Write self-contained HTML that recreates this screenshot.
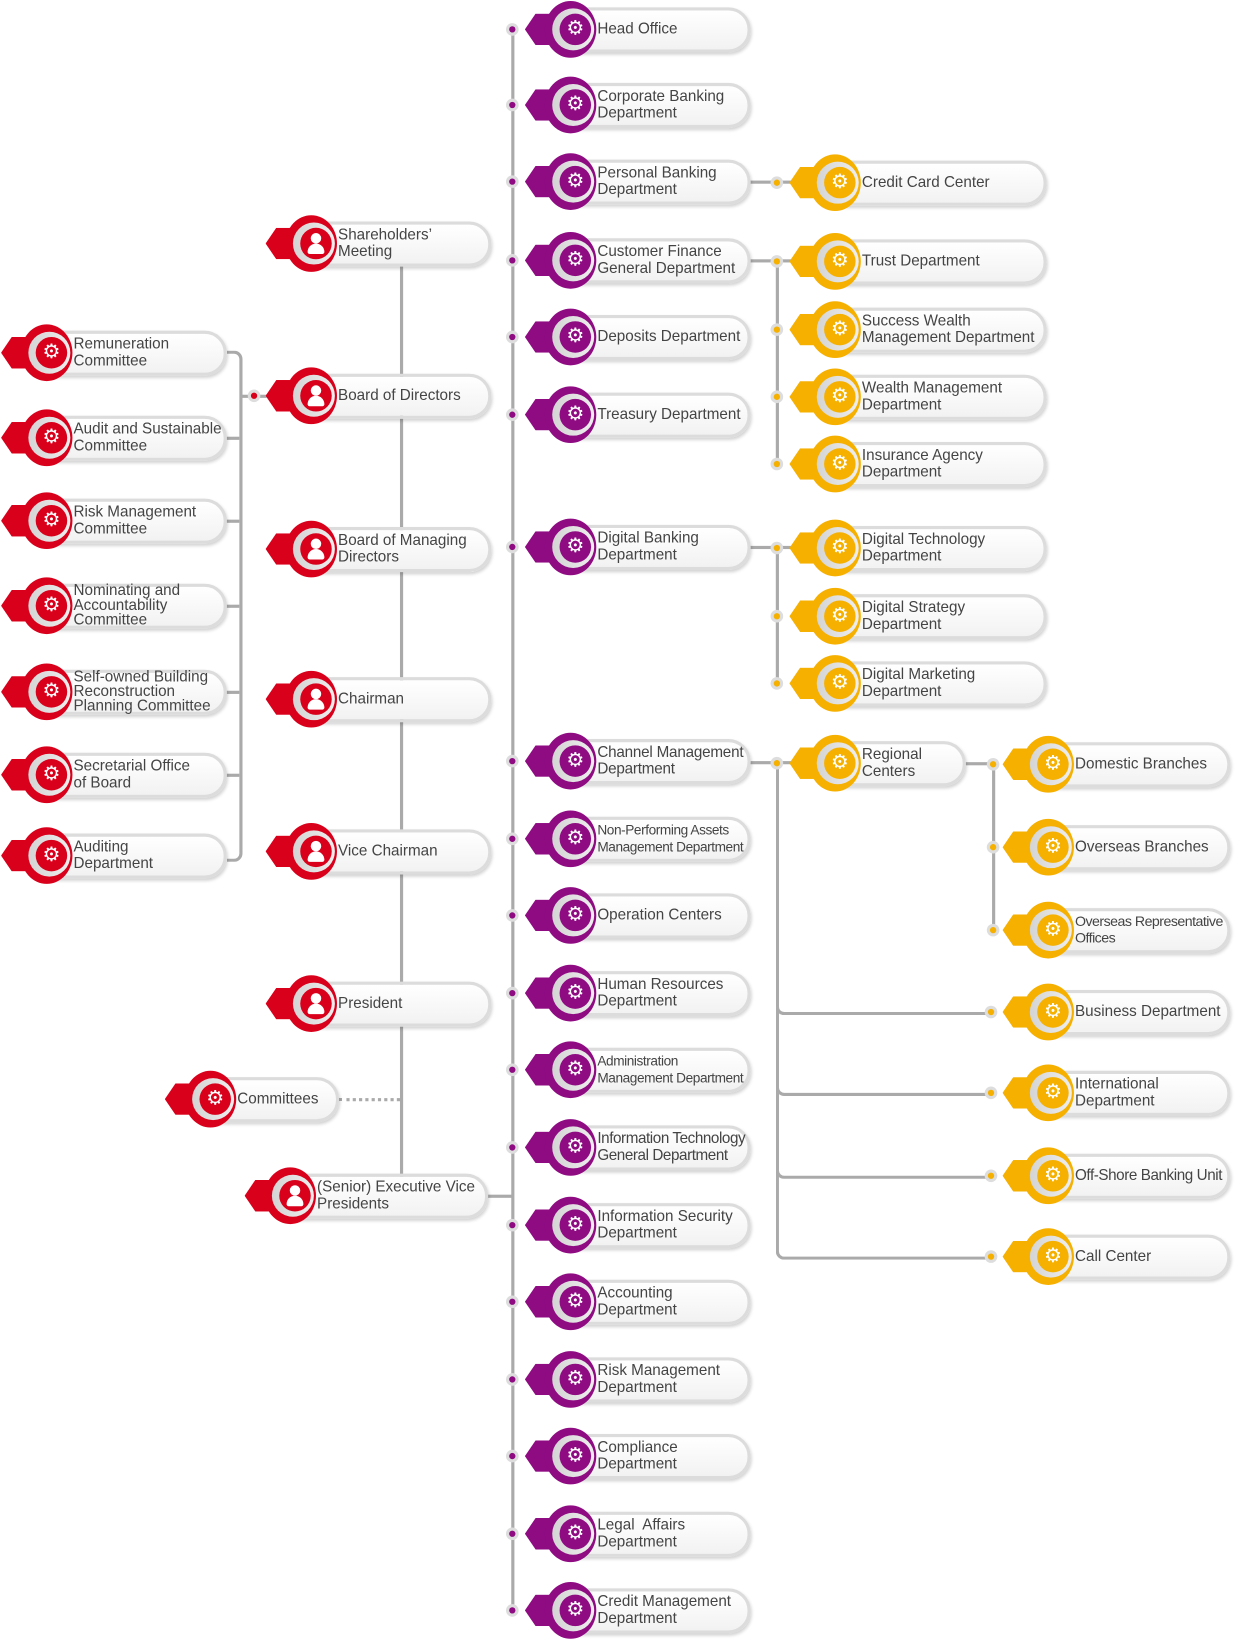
<!DOCTYPE html>
<html><head><meta charset="utf-8"><style>
html,body{margin:0;padding:0;background:#fff;width:1244px;height:1646px;overflow:hidden}
#w{position:absolute;left:0;top:0;width:1185px;height:1568px;transform:scale(1.0498);transform-origin:0 0;font-family:"Liberation Sans",sans-serif}
.n{position:absolute;width:0;height:0}
.n div{position:absolute;box-sizing:border-box}
.p{left:-22px;top:-21px;height:43px;border:3px solid #dcdcdc;border-radius:21px;background:linear-gradient(#fff,#f2f2f2);box-shadow:1px 2px 3px rgba(0,0,0,.18)}
.t{left:-48px;top:-15px;width:34px;height:30px;clip-path:polygon(0 50%,30% 0,100% 0,100% 100%,30% 100%)}
.r{left:-29px;top:-27px;width:49px;height:54px;border-radius:50%}
.g{left:-22px;top:-20px;width:40px;height:40px;border-radius:50%;background:linear-gradient(90deg,#d4d4d4,#eee)}
.i{left:-15px;top:-15px;width:30px;height:30px;border-radius:50%;color:#fff;font-size:19px;line-height:30px;text-align:center}
.i .h{left:10px;top:5px;width:10px;height:10px;border-radius:50%;background:#fff}
.i .b{left:7px;top:15px;width:16px;height:10px;border-radius:8px 8px 2px 2px;background:#fff}
.x{left:21px;top:-21px;height:42px;display:flex;align-items:center;font-size:14.5px;line-height:16px;color:#444;white-space:nowrap;z-index:2}
.pu .t,.pu .r,.pu .i{background:#8e0b82}
.ye .t,.ye .r,.ye .i{background:#f5b000}
.rd .t,.rd .r,.rd .i{background:#d9001b}
.l{position:absolute;background:#aaa}
.d{position:absolute;width:12px;height:12px;border-radius:50%;background:#ddd}
.d::after{content:"";position:absolute;left:3px;top:3px;width:6px;height:6px;border-radius:50%;background:var(--c)}
</style></head><body><div id="w">

<!-- lines -->
<div class="l" style="left:487px;top:28px;width:3px;height:1508px"></div>
<div class="l" style="left:381px;top:232px;width:3px;height:908px"></div>
<div class="l" style="left:440px;top:1138px;width:48px;height:3px"></div>
<div style="position:absolute;left:323px;top:1046px;width:58px;border-top:3px dotted #aaa"></div>
<div style="position:absolute;left:216px;top:334px;width:12px;height:481px;border:3px solid #aaa;border-left:none;border-radius:0 8px 8px 0"></div>
<div class="l" style="left:216px;top:416px;width:12px;height:3px"></div>
<div class="l" style="left:216px;top:495px;width:12px;height:3px"></div>
<div class="l" style="left:216px;top:576px;width:12px;height:3px"></div>
<div class="l" style="left:216px;top:658px;width:12px;height:3px"></div>
<div class="l" style="left:216px;top:737px;width:12px;height:3px"></div>
<div class="l" style="left:230px;top:376px;width:24px;height:3px"></div>
<div class="d" style="left:236px;top:371px;--c:#d9001b"></div>

<!-- purple dots -->
<div class="d" style="left:482px;top:22px;--c:#8e0b82"></div>
<div class="d" style="left:482px;top:94px;--c:#8e0b82"></div>
<div class="d" style="left:482px;top:167px;--c:#8e0b82"></div>
<div class="d" style="left:482px;top:242px;--c:#8e0b82"></div>
<div class="d" style="left:482px;top:315px;--c:#8e0b82"></div>
<div class="d" style="left:482px;top:389px;--c:#8e0b82"></div>
<div class="d" style="left:482px;top:515px;--c:#8e0b82"></div>
<div class="d" style="left:482px;top:719px;--c:#8e0b82"></div>
<div class="d" style="left:482px;top:793px;--c:#8e0b82"></div>
<div class="d" style="left:482px;top:866px;--c:#8e0b82"></div>
<div class="d" style="left:482px;top:940px;--c:#8e0b82"></div>
<div class="d" style="left:482px;top:1013px;--c:#8e0b82"></div>
<div class="d" style="left:482px;top:1087px;--c:#8e0b82"></div>
<div class="d" style="left:482px;top:1161px;--c:#8e0b82"></div>
<div class="d" style="left:482px;top:1234px;--c:#8e0b82"></div>
<div class="d" style="left:482px;top:1308px;--c:#8e0b82"></div>
<div class="d" style="left:482px;top:1381px;--c:#8e0b82"></div>
<div class="d" style="left:482px;top:1455px;--c:#8e0b82"></div>
<div class="d" style="left:482px;top:1528px;--c:#8e0b82"></div>

<!-- yellow connectors -->
<div class="l" style="left:715px;top:172px;width:40px;height:3px"></div>
<div class="l" style="left:715px;top:247px;width:40px;height:3px"></div>
<div class="l" style="left:739px;top:249px;width:3px;height:193px"></div>
<div class="l" style="left:715px;top:520px;width:40px;height:3px"></div>
<div class="l" style="left:739px;top:522px;width:3px;height:129px"></div>
<div class="l" style="left:715px;top:725px;width:40px;height:3px"></div>
<div style="position:absolute;left:739px;top:727px;width:206px;height:470px;border-left:3px solid #aaa;border-bottom:3px solid #aaa;border-radius:0 0 0 8px"></div>
<div style="position:absolute;left:739px;top:727px;width:206px;height:237px;border-left:3px solid #aaa;border-bottom:3px solid #aaa;border-radius:0 0 0 8px"></div>
<div style="position:absolute;left:739px;top:727px;width:206px;height:314px;border-left:3px solid #aaa;border-bottom:3px solid #aaa;border-radius:0 0 0 8px"></div>
<div style="position:absolute;left:739px;top:727px;width:206px;height:393px;border-left:3px solid #aaa;border-bottom:3px solid #aaa;border-radius:0 0 0 8px"></div>
<div class="l" style="left:920px;top:726px;width:30px;height:3px"></div>
<div class="l" style="left:945px;top:728px;width:3px;height:158px"></div>
<div class="d" style="left:734px;top:168px;--c:#f5b000"></div>
<div class="d" style="left:734px;top:243px;--c:#f5b000"></div>
<div class="d" style="left:734px;top:308px;--c:#f5b000"></div>
<div class="d" style="left:734px;top:372px;--c:#f5b000"></div>
<div class="d" style="left:734px;top:436px;--c:#f5b000"></div>
<div class="d" style="left:734px;top:516px;--c:#f5b000"></div>
<div class="d" style="left:734px;top:581px;--c:#f5b000"></div>
<div class="d" style="left:734px;top:645px;--c:#f5b000"></div>
<div class="d" style="left:734px;top:721px;--c:#f5b000"></div>
<div class="d" style="left:940px;top:722px;--c:#f5b000"></div>
<div class="d" style="left:940px;top:801px;--c:#f5b000"></div>
<div class="d" style="left:940px;top:880px;--c:#f5b000"></div>
<div class="d" style="left:938px;top:958px;--c:#f5b000"></div>
<div class="d" style="left:938px;top:1035px;--c:#f5b000"></div>
<div class="d" style="left:938px;top:1114px;--c:#f5b000"></div>
<div class="d" style="left:938px;top:1191px;--c:#f5b000"></div>

<!-- purple nodes -->
<div class="n pu" style="left:548px;top:28px"><div class="p" style="width:189px"></div><div class="t"></div><div class="r"></div><div class="g"></div><div class="i">⚙</div><div class="x">Head Office</div></div>
<div class="n pu" style="left:548px;top:100px"><div class="p" style="width:189px"></div><div class="t"></div><div class="r"></div><div class="g"></div><div class="i">⚙</div><div class="x">Corporate Banking<br>Department</div></div>
<div class="n pu" style="left:548px;top:173px"><div class="p" style="width:189px"></div><div class="t"></div><div class="r"></div><div class="g"></div><div class="i">⚙</div><div class="x">Personal Banking<br>Department</div></div>
<div class="n pu" style="left:548px;top:248px"><div class="p" style="width:189px"></div><div class="t"></div><div class="r"></div><div class="g"></div><div class="i">⚙</div><div class="x">Customer Finance<br>General Department</div></div>
<div class="n pu" style="left:548px;top:321px"><div class="p" style="width:189px"></div><div class="t"></div><div class="r"></div><div class="g"></div><div class="i">⚙</div><div class="x">Deposits Department</div></div>
<div class="n pu" style="left:548px;top:395px"><div class="p" style="width:189px"></div><div class="t"></div><div class="r"></div><div class="g"></div><div class="i">⚙</div><div class="x">Treasury Department</div></div>
<div class="n pu" style="left:548px;top:521px"><div class="p" style="width:189px"></div><div class="t"></div><div class="r"></div><div class="g"></div><div class="i">⚙</div><div class="x">Digital Banking<br>Department</div></div>
<div class="n pu" style="left:548px;top:725px"><div class="p" style="width:189px"></div><div class="t"></div><div class="r"></div><div class="g"></div><div class="i">⚙</div><div class="x" style="letter-spacing:-.2px">Channel Management<br>Department</div></div>
<div class="n pu" style="left:548px;top:799px"><div class="p" style="width:189px"></div><div class="t"></div><div class="r"></div><div class="g"></div><div class="i">⚙</div><div class="x" style="font-size:13px;letter-spacing:-.4px">Non-Performing Assets<br>Management Department</div></div>
<div class="n pu" style="left:548px;top:872px"><div class="p" style="width:189px"></div><div class="t"></div><div class="r"></div><div class="g"></div><div class="i">⚙</div><div class="x">Operation Centers</div></div>
<div class="n pu" style="left:548px;top:946px"><div class="p" style="width:189px"></div><div class="t"></div><div class="r"></div><div class="g"></div><div class="i">⚙</div><div class="x">Human Resources<br>Department</div></div>
<div class="n pu" style="left:548px;top:1019px"><div class="p" style="width:189px"></div><div class="t"></div><div class="r"></div><div class="g"></div><div class="i">⚙</div><div class="x" style="font-size:13px;letter-spacing:-.4px">Administration<br>Management Department</div></div>
<div class="n pu" style="left:548px;top:1093px"><div class="p" style="width:189px"></div><div class="t"></div><div class="r"></div><div class="g"></div><div class="i">⚙</div><div class="x" style="letter-spacing:-.4px">Information Technology<br>General Department</div></div>
<div class="n pu" style="left:548px;top:1167px"><div class="p" style="width:189px"></div><div class="t"></div><div class="r"></div><div class="g"></div><div class="i">⚙</div><div class="x">Information Security<br>Department</div></div>
<div class="n pu" style="left:548px;top:1240px"><div class="p" style="width:189px"></div><div class="t"></div><div class="r"></div><div class="g"></div><div class="i">⚙</div><div class="x">Accounting<br>Department</div></div>
<div class="n pu" style="left:548px;top:1314px"><div class="p" style="width:189px"></div><div class="t"></div><div class="r"></div><div class="g"></div><div class="i">⚙</div><div class="x">Risk Management<br>Department</div></div>
<div class="n pu" style="left:548px;top:1387px"><div class="p" style="width:189px"></div><div class="t"></div><div class="r"></div><div class="g"></div><div class="i">⚙</div><div class="x">Compliance<br>Department</div></div>
<div class="n pu" style="left:548px;top:1461px"><div class="p" style="width:189px"></div><div class="t"></div><div class="r"></div><div class="g"></div><div class="i">⚙</div><div class="x">Legal&nbsp; Affairs<br>Department</div></div>
<div class="n pu" style="left:548px;top:1534px"><div class="p" style="width:189px"></div><div class="t"></div><div class="r"></div><div class="g"></div><div class="i">⚙</div><div class="x">Credit Management<br>Department</div></div>

<!-- yellow nodes -->
<div class="n ye" style="left:800px;top:174px"><div class="p" style="width:219px"></div><div class="t"></div><div class="r"></div><div class="g"></div><div class="i">⚙</div><div class="x">Credit Card Center</div></div>
<div class="n ye" style="left:800px;top:249px"><div class="p" style="width:219px"></div><div class="t"></div><div class="r"></div><div class="g"></div><div class="i">⚙</div><div class="x">Trust Department</div></div>
<div class="n ye" style="left:800px;top:314px"><div class="p" style="width:219px"></div><div class="t"></div><div class="r"></div><div class="g"></div><div class="i">⚙</div><div class="x">Success Wealth<br>Management Department</div></div>
<div class="n ye" style="left:800px;top:378px"><div class="p" style="width:219px"></div><div class="t"></div><div class="r"></div><div class="g"></div><div class="i">⚙</div><div class="x">Wealth Management<br>Department</div></div>
<div class="n ye" style="left:800px;top:442px"><div class="p" style="width:219px"></div><div class="t"></div><div class="r"></div><div class="g"></div><div class="i">⚙</div><div class="x">Insurance Agency<br>Department</div></div>
<div class="n ye" style="left:800px;top:522px"><div class="p" style="width:219px"></div><div class="t"></div><div class="r"></div><div class="g"></div><div class="i">⚙</div><div class="x">Digital Technology<br>Department</div></div>
<div class="n ye" style="left:800px;top:587px"><div class="p" style="width:219px"></div><div class="t"></div><div class="r"></div><div class="g"></div><div class="i">⚙</div><div class="x">Digital Strategy<br>Department</div></div>
<div class="n ye" style="left:800px;top:651px"><div class="p" style="width:219px"></div><div class="t"></div><div class="r"></div><div class="g"></div><div class="i">⚙</div><div class="x">Digital Marketing<br>Department</div></div>
<div class="n ye" style="left:800px;top:727px"><div class="p" style="width:142px"></div><div class="t"></div><div class="r"></div><div class="g"></div><div class="i">⚙</div><div class="x">Regional<br>Centers</div></div>

<div class="n ye" style="left:1003px;top:728px"><div class="p" style="width:191px"></div><div class="t"></div><div class="r"></div><div class="g"></div><div class="i">⚙</div><div class="x">Domestic Branches</div></div>
<div class="n ye" style="left:1003px;top:807px"><div class="p" style="width:191px"></div><div class="t"></div><div class="r"></div><div class="g"></div><div class="i">⚙</div><div class="x">Overseas Branches</div></div>
<div class="n ye" style="left:1003px;top:886px"><div class="p" style="width:191px"></div><div class="t"></div><div class="r"></div><div class="g"></div><div class="i">⚙</div><div class="x" style="font-size:13.5px;letter-spacing:-.5px">Overseas Representative<br>Offices</div></div>
<div class="n ye" style="left:1003px;top:964px"><div class="p" style="width:191px"></div><div class="t"></div><div class="r"></div><div class="g"></div><div class="i">⚙</div><div class="x">Business Department</div></div>
<div class="n ye" style="left:1003px;top:1041px"><div class="p" style="width:191px"></div><div class="t"></div><div class="r"></div><div class="g"></div><div class="i">⚙</div><div class="x">International<br>Department</div></div>
<div class="n ye" style="left:1003px;top:1120px"><div class="p" style="width:191px"></div><div class="t"></div><div class="r"></div><div class="g"></div><div class="i">⚙</div><div class="x" style="letter-spacing:-.4px">Off-Shore Banking Unit</div></div>
<div class="n ye" style="left:1003px;top:1197px"><div class="p" style="width:191px"></div><div class="t"></div><div class="r"></div><div class="g"></div><div class="i">⚙</div><div class="x">Call Center</div></div>

<!-- red middle -->
<div class="n rd" style="left:301px;top:232px"><div class="p" style="width:189px"></div><div class="t"></div><div class="r"></div><div class="g"></div><div class="i"><div class="h"></div><div class="b"></div></div><div class="x">Shareholders’<br>Meeting</div></div>
<div class="n rd" style="left:301px;top:377px"><div class="p" style="width:189px"></div><div class="t"></div><div class="r"></div><div class="g"></div><div class="i"><div class="h"></div><div class="b"></div></div><div class="x">Board of Directors</div></div>
<div class="n rd" style="left:301px;top:523px"><div class="p" style="width:189px"></div><div class="t"></div><div class="r"></div><div class="g"></div><div class="i"><div class="h"></div><div class="b"></div></div><div class="x">Board of Managing<br>Directors</div></div>
<div class="n rd" style="left:301px;top:666px"><div class="p" style="width:189px"></div><div class="t"></div><div class="r"></div><div class="g"></div><div class="i"><div class="h"></div><div class="b"></div></div><div class="x">Chairman</div></div>
<div class="n rd" style="left:301px;top:811px"><div class="p" style="width:189px"></div><div class="t"></div><div class="r"></div><div class="g"></div><div class="i"><div class="h"></div><div class="b"></div></div><div class="x">Vice Chairman</div></div>
<div class="n rd" style="left:301px;top:956px"><div class="p" style="width:189px"></div><div class="t"></div><div class="r"></div><div class="g"></div><div class="i"><div class="h"></div><div class="b"></div></div><div class="x">President</div></div>
<div class="n rd" style="left:205px;top:1047px"><div class="p" style="width:140px"></div><div class="t"></div><div class="r"></div><div class="g"></div><div class="i">⚙</div><div class="x">Committees</div></div>
<div class="n rd" style="left:281px;top:1139px"><div class="p" style="width:206px"></div><div class="t"></div><div class="r"></div><div class="g"></div><div class="i"><div class="h"></div><div class="b"></div></div><div class="x">(Senior) Executive Vice<br>Presidents</div></div>

<!-- red left -->
<div class="n rd" style="left:49px;top:336px"><div class="p" style="width:189px"></div><div class="t"></div><div class="r"></div><div class="g"></div><div class="i">⚙</div><div class="x">Remuneration<br>Committee</div></div>
<div class="n rd" style="left:49px;top:417px"><div class="p" style="width:189px"></div><div class="t"></div><div class="r"></div><div class="g"></div><div class="i">⚙</div><div class="x">Audit and Sustainable<br>Committee</div></div>
<div class="n rd" style="left:49px;top:496px"><div class="p" style="width:189px"></div><div class="t"></div><div class="r"></div><div class="g"></div><div class="i">⚙</div><div class="x">Risk Management<br>Committee</div></div>
<div class="n rd" style="left:49px;top:577px"><div class="p" style="width:189px"></div><div class="t"></div><div class="r"></div><div class="g"></div><div class="i">⚙</div><div class="x" style="line-height:14px">Nominating and<br>Accountability<br>Committee</div></div>
<div class="n rd" style="left:49px;top:659px"><div class="p" style="width:189px"></div><div class="t"></div><div class="r"></div><div class="g"></div><div class="i">⚙</div><div class="x" style="line-height:14px">Self-owned Building<br>Reconstruction<br>Planning Committee</div></div>
<div class="n rd" style="left:49px;top:738px"><div class="p" style="width:189px"></div><div class="t"></div><div class="r"></div><div class="g"></div><div class="i">⚙</div><div class="x">Secretarial Office<br>of Board</div></div>
<div class="n rd" style="left:49px;top:815px"><div class="p" style="width:189px"></div><div class="t"></div><div class="r"></div><div class="g"></div><div class="i">⚙</div><div class="x">Auditing<br>Department</div></div>

</div></body></html>
